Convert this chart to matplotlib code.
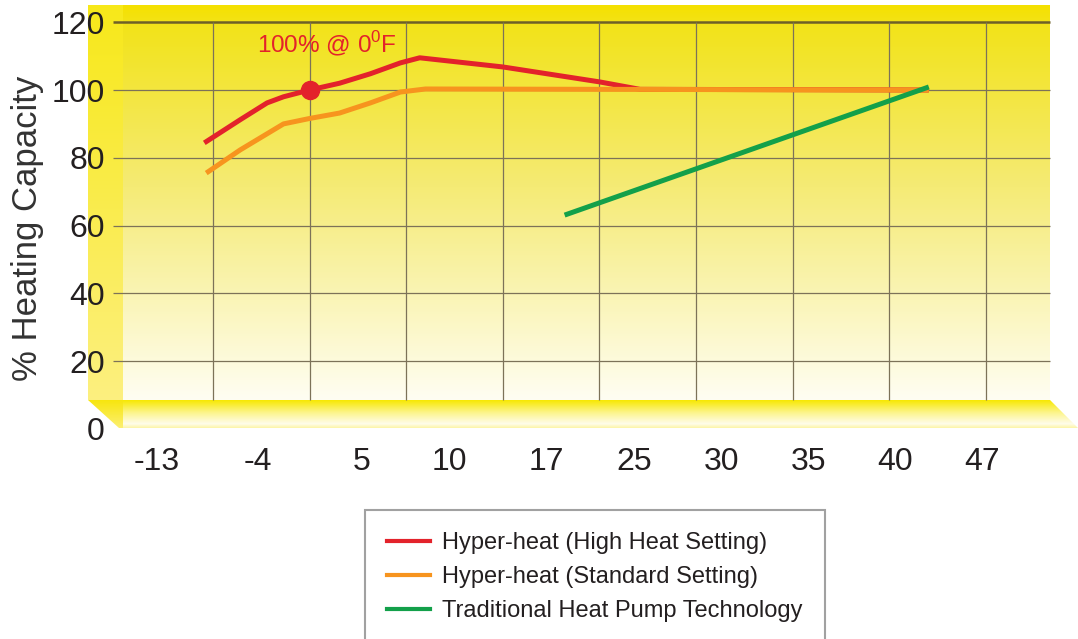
import matplotlib
matplotlib.use("Agg")
import matplotlib.pyplot as plt
import numpy as np
from matplotlib.colors import LinearSegmentedColormap
from matplotlib.patches import Polygon
from matplotlib.lines import Line2D

# data (x in grid-column units, y in % capacity)
red_x = [0.91, 1.28, 1.56, 1.73, 2.0, 2.31, 2.63, 2.94, 3.14, 4.0, 5.0, 5.42, 8.41]
red_y = [84.4, 91.2, 96.2, 98.0, 100.0, 102.0, 104.8, 108.0, 109.5, 106.8, 102.4, 100.2, 100.0]
orange_x = [0.93, 1.28, 1.73, 2.0, 2.31, 2.63, 2.94, 3.2, 8.41]
orange_y = [75.5, 82.3, 90.0, 91.6, 93.2, 96.2, 99.4, 100.3, 100.0]
green_x = [4.64, 8.41]
green_y = [63.1, 100.9]
dot_x, dot_y = 2.0, 100.0

xtick_pos = [0.42, 1.466, 2.542, 3.443, 4.447, 5.358, 6.269, 7.17, 8.06, 8.961]
xtick_labels = ["-13", "-4", "5", "10", "17", "25", "30", "35", "40", "47"]
ytick_vals = [0, 20, 40, 60, 80, 100, 120]
grid_cols = [1, 2, 3, 4, 5, 6, 7, 8, 9]
grid_rows = [20, 40, 60, 80, 100]

labels = ["Hyper-heat (High Heat Setting)", "Hyper-heat (Standard Setting)",
          "Traditional Heat Pump Technology"]
RED, ORANGE, GREEN = "#E3222B", "#F7941E", "#13A04A"

plt.rcParams["font.family"] = ["Liberation Sans", "DejaVu Sans"]

W, H = 1078, 639
fig = plt.figure(figsize=(W / 100, H / 100), dpi=100)
ax = fig.add_axes([88 / W, 1 - 432 / H, 990 / W, 427 / H])

# pixel -> data helpers for the decoration
def ux(px):
    return (px - 213) / 96.6 + 1

def vy(py):
    return (429 - py) / 3.39

ax.set_xlim(ux(88), ux(1078))
ax.set_ylim(vy(432), vy(5))

grad = np.linspace(0, 1, 256).reshape(-1, 1)

# main panel gradient
panel_cm = LinearSegmentedColormap.from_list("panel", [
    (0.0, (0.96, 0.88, 0.0)), (0.05, (0.95, 0.89, 0.10)), (0.45, (0.96, 0.92, 0.45)),
    (1.0, (1.0, 0.995, 0.95))])
ax.imshow(grad, extent=[ux(123), ux(1050), vy(400), vy(5)], aspect="auto",
          cmap=panel_cm, zorder=0, interpolation="bicubic")

# left wall
wall_cm = LinearSegmentedColormap.from_list("wall", [(0.97, 0.91, 0.1), (0.99, 0.94, 0.5)])
ax.imshow(grad, extent=[ux(88), ux(123), vy(400), vy(5)], aspect="auto",
          cmap=wall_cm, zorder=0)

# floor slab
floor_cm = LinearSegmentedColormap.from_list("floor", [
    (0.0, (0.97, 0.91, 0.0)), (0.45, (0.99, 0.96, 0.55)), (0.85, (1.0, 0.99, 0.92)),
    (1.0, (0.99, 0.96, 0.65))])
floor = Polygon([(ux(123), vy(400)), (ux(1050), vy(400)), (ux(1078), vy(428)), (ux(123), vy(428))],
                closed=True, facecolor="none", edgecolor="none")
ax.add_patch(floor)
im = ax.imshow(grad, extent=[ux(88), ux(1078), vy(428), vy(400)], aspect="auto",
               cmap=floor_cm, zorder=1)
im.set_clip_path(floor)
corner_cm = LinearSegmentedColormap.from_list("corner", [(0.97, 0.9, 0.05), (0.99, 0.94, 0.45)])
corner = Polygon([(ux(88), vy(400)), (ux(123), vy(400)), (ux(123), vy(428)), (ux(119), vy(428))],
                 closed=True, facecolor="none", edgecolor="none")
ax.add_patch(corner)
im2 = ax.imshow(grad, extent=[ux(88), ux(123), vy(428), vy(400)], aspect="auto",
                cmap=corner_cm, zorder=1)
im2.set_clip_path(corner)

# grid
ax.hlines(grid_rows, ux(113), ux(1050), color="#7c7258", lw=0.9, zorder=2)
ax.hlines([120], ux(113), ux(1050), color="#6e6028", lw=1.8, zorder=2)
ax.vlines(grid_cols, vy(400), 120, color="#7c7258", lw=0.9, zorder=2)

# series
ax.plot(red_x, red_y, color=RED, lw=3.6, solid_capstyle="butt", solid_joinstyle="round", zorder=3)
ax.plot(orange_x, orange_y, color=ORANGE, lw=3.6, solid_capstyle="butt", solid_joinstyle="round", zorder=4)
ax.plot(green_x, green_y, color=GREEN, lw=3.6, solid_capstyle="butt", zorder=5)
ax.plot([dot_x], [dot_y], "o", color=RED, ms=13, zorder=6)
ax.annotate("100% @ 0$^{\\mathregular{0}}$F", (dot_x, dot_y), xytext=(dot_x + 0.18, 113.5),
            ha="center", va="center", color=RED, fontsize=17.5)

# axes / ticks
for s in ax.spines.values():
    s.set_visible(False)
ax.patch.set_alpha(0)
ax.set_xticks(xtick_pos)
ax.set_xticklabels(xtick_labels)
ax.set_yticks(ytick_vals)
ax.tick_params(axis="x", length=0, pad=11, labelsize=23, labelcolor="#231f20")
ax.tick_params(axis="y", length=0, pad=-12, labelsize=23, labelcolor="#231f20")
fig.text(28 / W, 1 - 228 / H, "% Heating Capacity", rotation=90, ha="center", va="center",
         fontsize=25, color="#333333")

handles = [Line2D([], [], color=c, lw=3) for c in (RED, ORANGE, GREEN)]
leg = fig.legend(handles, labels, loc="upper left", bbox_to_anchor=(365 / W, 1 - 510 / H),
                 frameon=True, fancybox=False, edgecolor="#8a8a8a", borderaxespad=0,
                 prop={"size": 17}, handlelength=1.8, handletextpad=0.5,
                 labelspacing=0.5, borderpad=0.95)
leg.get_frame().set_linewidth(1.5)
for t in leg.get_texts():
    t.set_color("#231f20")

fig.savefig("out.png", dpi=100)
